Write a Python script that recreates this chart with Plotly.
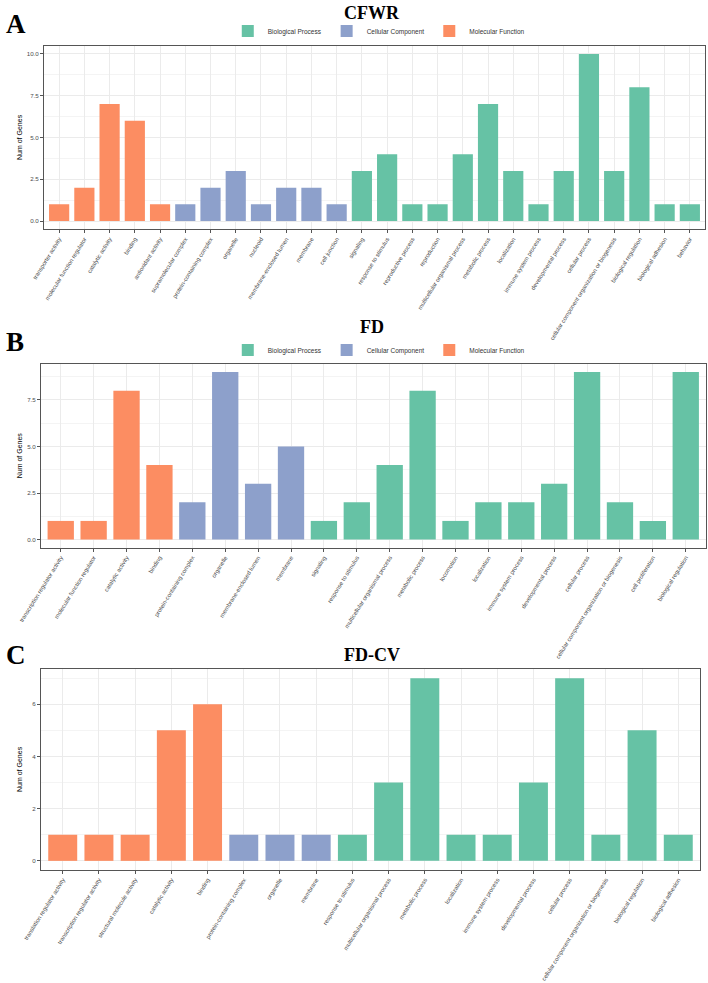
import plotly.graph_objects as go

W, H = 708, 983

# ---------------- data ----------------
ontologies = ["Biological Process", "Cellular Component", "Molecular Function"]
colors = {"Biological Process": "#66C2A5", "Cellular Component": "#8DA0CB", "Molecular Function": "#FC8D62"}

# Panel A: CFWR
a_mf_terms = ["transporter activity", "molecular function regulator", "catalytic activity", "binding", "antioxidant activity"]
a_mf_vals = [1, 2, 7, 6, 1]
a_cc_terms = ["supramolecular complex", "protein-containing complex", "organelle", "nucleoid",
              "membrane-enclosed lumen", "membrane", "cell junction"]
a_cc_vals = [1, 2, 3, 1, 2, 2, 1]
a_bp_terms = ["signaling", "response to stimulus", "reproductive process", "reproduction",
              "multicellular organismal process", "metabolic process", "localization",
              "immune system process", "developmental process", "cellular process",
              "cellular component organization or biogenesis", "biological regulation",
              "biological adhesion", "behavior"]
a_bp_vals = [3, 4, 1, 1, 4, 7, 3, 1, 3, 10, 3, 8, 1, 1]

# Panel B: FD
b_mf_terms = ["transcription regulator activity", "molecular function regulator", "catalytic activity", "binding"]
b_mf_vals = [1, 1, 8, 4]
b_cc_terms = ["protein-containing complex", "organelle", "membrane-enclosed lumen", "membrane"]
b_cc_vals = [2, 9, 3, 5]
b_bp_terms = ["signaling", "response to stimulus", "multicellular organismal process", "metabolic process",
              "locomotion", "localization", "immune system process", "developmental process",
              "cellular process", "cellular component organization or biogenesis",
              "cell proliferation", "biological regulation"]
b_bp_vals = [1, 2, 4, 8, 1, 2, 2, 3, 9, 2, 1, 9]

# Panel C: FD-CV
c_mf_terms = ["translation regulator activity", "transcription regulator activity",
              "structural molecule activity", "catalytic activity", "binding"]
c_mf_vals = [1, 1, 1, 5, 6]
c_cc_terms = ["protein-containing complex", "organelle", "membrane"]
c_cc_vals = [1, 1, 1]
c_bp_terms = ["response to stimulus", "multicellular organismal process", "metabolic process",
              "localization", "immune system process", "developmental process", "cellular process",
              "cellular component organization or biogenesis", "biological regulation", "biological adhesion"]
c_bp_vals = [1, 3, 7, 1, 1, 3, 7, 1, 5, 1]

panels = [
    dict(title="CFWR", letter="A", mf=(a_mf_terms, a_mf_vals), cc=(a_cc_terms, a_cc_vals), bp=(a_bp_terms, a_bp_vals),
         px_x=(44, 705), px_y=(45.6, 229.4), yr=(-0.5, 10.5), dtick=2.5, fmt=".1f",
         title_y=13, letter_y=24, legend="legend", legend_y=31),
    dict(title="FD", letter="B", mf=(b_mf_terms, b_mf_vals), cc=(b_cc_terms, b_cc_vals), bp=(b_bp_terms, b_bp_vals),
         px_x=(41, 705.5), px_y=(363.7, 547.9), yr=(-0.45, 9.45), dtick=2.5, fmt=".1f",
         title_y=327, letter_y=342, legend="legend2", legend_y=350),
    dict(title="FD-CV", letter="C", mf=(c_mf_terms, c_mf_vals), cc=(c_cc_terms, c_cc_vals), bp=(c_bp_terms, c_bp_vals),
         px_x=(41, 700), px_y=(669, 870), yr=(-0.35, 7.35), dtick=2, fmt="d",
         title_y=655, letter_y=655, legend=None, legend_y=None),
]

fig = go.Figure()
annotations = []
layout = {}

def py(p):
    return 1 - p / H

for i, p in enumerate(panels):
    idx = "" if i == 0 else str(i + 1)
    xa, ya = "x" + idx, "y" + idx
    order = p["mf"][0] + p["cc"][0] + p["bp"][0]
    for ont, key in zip(ontologies, ["bp", "cc", "mf"]):
        terms, vals = p[key]
        fig.add_trace(go.Bar(
            x=terms, y=vals, name=ont, marker=dict(color=colors[ont], line=dict(width=0)),
            xaxis=xa, yaxis=ya, showlegend=p["legend"] is not None,
            legend=p["legend"] if p["legend"] else "legend",
            hovertemplate="%{x}: %{y}<extra>" + ont + "</extra>",
        ))
    n = len(order)
    x0, x1 = p["px_x"]
    ytop, ybot = p["px_y"]
    layout["xaxis" + idx] = dict(
        domain=[x0 / W, x1 / W], anchor=ya, type="category",
        categoryorder="array", categoryarray=order, range=[-0.6, n - 0.4],
        tickangle=-58, tickfont=dict(family="Liberation Sans", size=5.9, color="#4D4D4D"),
        showgrid=True, gridcolor="#EBEBEB", gridwidth=1,
        showline=True, mirror=True, linecolor="#555555", linewidth=1,
        ticks="outside", ticklen=3, tickcolor="#555555", tickwidth=1,
        automargin=False, fixedrange=True,
    )
    layout["yaxis" + idx] = dict(
        domain=[py(ybot), py(ytop)], anchor=xa, range=list(p["yr"]),
        tick0=0, dtick=p["dtick"], tickformat=p["fmt"],
        tickfont=dict(family="Liberation Sans", size=6.2, color="#4D4D4D"),
        showgrid=True, gridcolor="#EBEBEB", gridwidth=1, zeroline=False,
        minor=dict(dtick=p["dtick"] / 2, tick0=0, showgrid=True, gridcolor="#F4F4F4", gridwidth=1, ticks=""),
        showline=True, mirror=True, linecolor="#555555", linewidth=1,
        ticks="outside", ticklen=3, tickcolor="#555555", tickwidth=1,
        automargin=False, fixedrange=True,
    )
    # titles
    annotations.append(dict(text="<b>" + p["title"] + "</b>", x=372 / W, y=py(p["title_y"]),
                            xref="paper", yref="paper", showarrow=False, xanchor="center", yanchor="middle",
                            font=dict(family="Liberation Serif", size=18, color="black")))
    annotations.append(dict(text="<b>" + p["letter"] + "</b>", x=4 / W, y=py(p["letter_y"]),
                            xref="paper", yref="paper", showarrow=False, xanchor="left", yanchor="middle",
                            font=dict(family="Liberation Serif", size=27, color="black")))
    annotations.append(dict(text="Num of Genes", x=19.5 / W, y=py((ytop + ybot) / 2),
                            xref="paper", yref="paper", showarrow=False, textangle=-90,
                            xanchor="center", yanchor="middle",
                            font=dict(family="Liberation Sans", size=7, color="black")))
    if p["legend"]:
        layout[p["legend"]] = dict(
            orientation="h", x=0.535, xanchor="center", y=py(p["legend_y"]), yanchor="middle",
            font=dict(family="Liberation Sans", size=6.5, color="#333333"),
            bgcolor="rgba(0,0,0,0)", itemwidth=30, tracegroupgap=0,
        )

fig.update_layout(
    width=W, height=H, margin=dict(l=0, r=0, t=0, b=0),
    paper_bgcolor="white", plot_bgcolor="white",
    barmode="relative", bargap=0.2,
    annotations=annotations, **layout,
)

fig.write_html("out.html")
